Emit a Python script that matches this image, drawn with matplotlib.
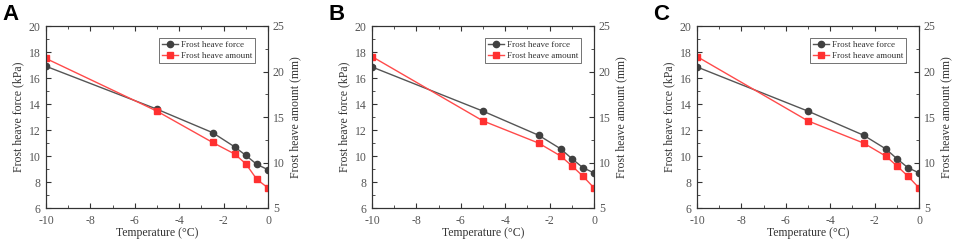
import matplotlib
matplotlib.use("Agg")
import matplotlib.pyplot as plt
from matplotlib.ticker import MultipleLocator

temperature = [-10, -5, -2.5, -1.5, -1, -0.5, 0]
force_A = [16.9, 13.6, 11.8, 10.7, 10.05, 9.35, 8.95]
amount_A = [21.43, 15.64, 12.21, 10.93, 9.86, 8.14, 7.21]
force_B = [16.85, 13.45, 11.6, 10.55, 9.8, 9.1, 8.7]
amount_B = [21.64, 14.57, 12.14, 10.71, 9.64, 8.5, 7.21]
force_C = [16.85, 13.45, 11.6, 10.55, 9.8, 9.1, 8.7]
amount_C = [21.64, 14.57, 12.14, 10.71, 9.64, 8.5, 7.21]
panel_labels = ["A", "B", "C"]

plt.rcParams['font.family'] = ['Liberation Serif', 'DejaVu Serif']
plt.rcParams['axes.unicode_minus'] = False

fig = plt.figure(figsize=(9.55, 2.41), dpi=100)
W, H = 955, 241
lefts = [46, 372, 697]
panels = [(force_A, amount_A), (force_B, amount_B), (force_C, amount_C)]
tick_col = '#555555'
for i, (lab, (frc, amt)) in enumerate(zip(panel_labels, panels)):
    l = lefts[i]
    ax = fig.add_axes([l / W, 1 - 208 / H, 222 / W, (208 - 26) / H])
    ax2 = ax.twinx()
    l1, = ax.plot(temperature, frc, '-o', color='#555555', mfc='#404040', mec='#404040',
                  ms=4.5, lw=1, label='Frost heave force')
    l2, = ax2.plot(temperature, amt, '-s', color='#ff4a4a', mfc='#ff3030', mec='#ff3030',
                   ms=4.3, lw=1, label='Frost heave amount')
    ax.set_xlim(-10, 0)
    ax.set_ylim(6, 20)
    ax2.set_ylim(5, 25)
    ax.xaxis.set_major_locator(MultipleLocator(2))
    ax.xaxis.set_minor_locator(MultipleLocator(1))
    ax.yaxis.set_major_locator(MultipleLocator(2))
    ax.yaxis.set_minor_locator(MultipleLocator(1))
    ax2.yaxis.set_major_locator(MultipleLocator(5))
    ax2.yaxis.set_minor_locator(MultipleLocator(2.5))
    ax.tick_params(which='both', direction='in', top=True, labelsize=8.5, labelcolor=tick_col, color='#333333')
    ax.tick_params(axis='x', pad=5)
    ax.tick_params(axis='y', pad=4)
    ax.tick_params(which='major', length=3.5)
    ax.tick_params(which='minor', length=2)
    ax2.tick_params(which='both', direction='in', labelsize=8.5, labelcolor=tick_col, color='#333333')
    ax2.tick_params(which='major', length=3.5)
    ax2.tick_params(which='minor', length=2)
    for a in (ax, ax2):
        for s in a.spines.values():
            s.set_color('#333333')
            s.set_linewidth(0.8)
    ax.set_xlabel('Temperature (°C)', fontsize=8.5, color='#333333', labelpad=0)
    ax.set_ylabel('Frost heave force (kPa)', fontsize=8.5, color='#333333', labelpad=3)
    ax2.set_ylabel('Frost heave amount (mm)', fontsize=8.5, color='#333333', labelpad=3)
    leg = ax.legend([l1, l2], ['Frost heave force', 'Frost heave amount'],
                    loc='upper right', bbox_to_anchor=(0.94, 0.935), fontsize=6.5,
                    frameon=True, fancybox=False, edgecolor='#333333',
                    handlelength=1.8, borderpad=0.3, labelspacing=0.3, handletextpad=0.3,
                    borderaxespad=0)
    leg.get_frame().set_linewidth(0.6)
    for t in leg.get_texts():
        t.set_color('#333333')
    fig.text((l - 44) / W, 1 - 14 / H, lab, fontsize=16, fontweight='bold',
             family='Liberation Sans', va='center', ha='left')

fig.savefig('out.png', dpi=100)
